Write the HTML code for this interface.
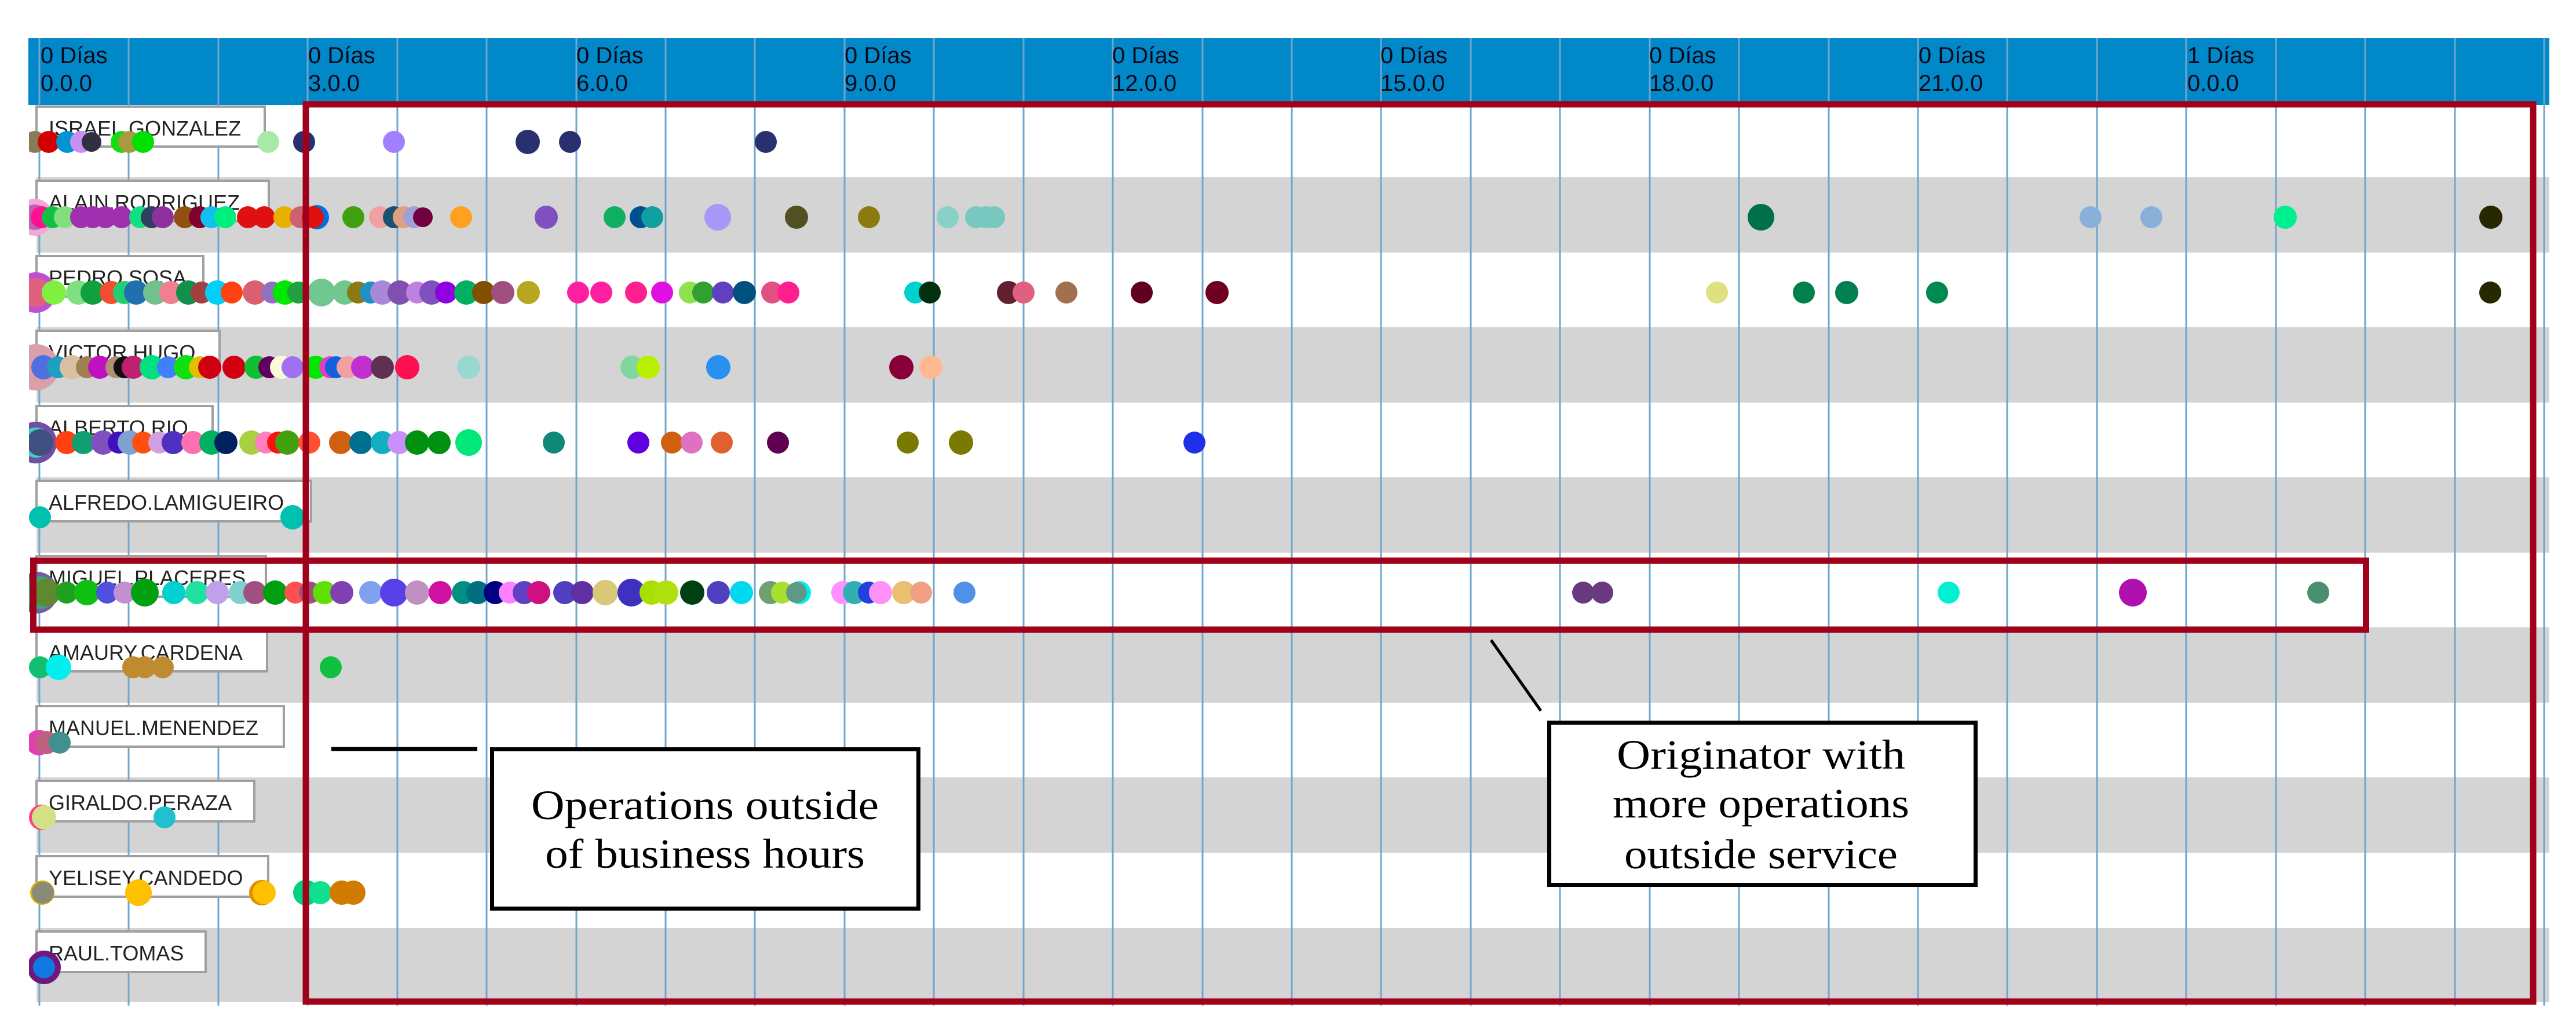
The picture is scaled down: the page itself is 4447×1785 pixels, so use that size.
<!DOCTYPE html>
<html><head><meta charset="utf-8"><style>html,body{margin:0;padding:0;background:#fff}svg{display:block}</style></head>
<body>
<svg width="4447" height="1785" viewBox="0 0 4447 1785" xmlns="http://www.w3.org/2000/svg">
<defs><clipPath id="cp"><rect x="50" y="181" width="4351" height="1555"/></clipPath></defs>
<rect width="4447" height="1785" fill="#fff"/>
<g fill="#d4d4d4">
<rect x="63" y="306" width="4338" height="130"/>
<rect x="63" y="565" width="4338" height="130"/>
<rect x="63" y="824" width="4338" height="130"/>
<rect x="63" y="1083" width="4338" height="130"/>
<rect x="63" y="1342" width="4338" height="130"/>
<rect x="63" y="1602" width="4338" height="128"/>
</g>
<rect x="49" y="66" width="4352" height="115" fill="#0088c8"/>
<g stroke="#6fa6cc" stroke-width="3">
<line x1="68" y1="66" x2="68" y2="1736"/><line x1="222" y1="66" x2="222" y2="1736"/><line x1="377" y1="66" x2="377" y2="1736"/><line x1="531" y1="66" x2="531" y2="1736"/><line x1="686" y1="66" x2="686" y2="1736"/><line x1="840" y1="66" x2="840" y2="1736"/><line x1="995" y1="66" x2="995" y2="1736"/><line x1="1149" y1="66" x2="1149" y2="1736"/><line x1="1303" y1="66" x2="1303" y2="1736"/><line x1="1458" y1="66" x2="1458" y2="1736"/><line x1="1612" y1="66" x2="1612" y2="1736"/><line x1="1767" y1="66" x2="1767" y2="1736"/><line x1="1921" y1="66" x2="1921" y2="1736"/><line x1="2076" y1="66" x2="2076" y2="1736"/><line x1="2230" y1="66" x2="2230" y2="1736"/><line x1="2384" y1="66" x2="2384" y2="1736"/><line x1="2539" y1="66" x2="2539" y2="1736"/><line x1="2693" y1="66" x2="2693" y2="1736"/><line x1="2848" y1="66" x2="2848" y2="1736"/><line x1="3002" y1="66" x2="3002" y2="1736"/><line x1="3157" y1="66" x2="3157" y2="1736"/><line x1="3311" y1="66" x2="3311" y2="1736"/><line x1="3465" y1="66" x2="3465" y2="1736"/><line x1="3620" y1="66" x2="3620" y2="1736"/><line x1="3774" y1="66" x2="3774" y2="1736"/><line x1="3929" y1="66" x2="3929" y2="1736"/><line x1="4083" y1="66" x2="4083" y2="1736"/><line x1="4238" y1="66" x2="4238" y2="1736"/><line x1="4392" y1="66" x2="4392" y2="1736"/>
</g>
<g font-family="Liberation Sans, sans-serif" font-size="40" fill="#0a0a1a">
<text x="70" y="109">0 Días</text><text x="70" y="157">0.0.0</text>
<text x="532" y="109">0 Días</text><text x="532" y="157">3.0.0</text>
<text x="995" y="109">0 Días</text><text x="995" y="157">6.0.0</text>
<text x="1458" y="109">0 Días</text><text x="1458" y="157">9.0.0</text>
<text x="1920" y="109">0 Días</text><text x="1920" y="157">12.0.0</text>
<text x="2383" y="109">0 Días</text><text x="2383" y="157">15.0.0</text>
<text x="2847" y="109">0 Días</text><text x="2847" y="157">18.0.0</text>
<text x="3312" y="109">0 Días</text><text x="3312" y="157">21.0.0</text>
<text x="3776" y="109">1 Días</text><text x="3776" y="157">0.0.0</text>
</g>
<g fill="#fff" stroke="#a0a0a0" stroke-width="4">
<rect x="63" y="184" width="394" height="69"/>
<rect x="63" y="312" width="401" height="70"/>
<rect x="63" y="442" width="288" height="70"/>
<rect x="63" y="571" width="316" height="70"/>
<rect x="63" y="701" width="304" height="70"/>
<rect x="63" y="830" width="474" height="70"/>
<rect x="63" y="960" width="396" height="70"/>
<rect x="63" y="1089" width="398" height="70"/>
<rect x="63" y="1219" width="427" height="70"/>
<rect x="63" y="1348" width="376" height="70"/>
<rect x="63" y="1478" width="400" height="70"/>
<rect x="63" y="1608" width="292" height="70"/>
</g>
<g font-family="Liberation Sans, sans-serif" font-size="36" fill="#222">
<text x="84" y="234">ISRAEL.GONZALEZ</text>
<text x="84" y="362">ALAIN.RODRIGUEZ</text>
<text x="84" y="492">PEDRO.SOSA</text>
<text x="84" y="621">VICTOR.HUGO</text>
<text x="84" y="751">ALBERTO.RIO</text>
<text x="84" y="880">ALFREDO.LAMIGUEIRO</text>
<text x="84" y="1010">MIGUEL.PLACERES</text>
<text x="84" y="1139">AMAURY.CARDENA</text>
<text x="84" y="1269">MANUEL.MENENDEZ</text>
<text x="84" y="1398">GIRALDO.PERAZA</text>
<text x="84" y="1528">YELISEY.CANDEDO</text>
<text x="84" y="1658">RAUL.TOMAS</text>
</g>
<g clip-path="url(#cp)">
<g transform="translate(0,245)">
<circle cx="60" r="19" fill="#8a7a5a"/><circle cx="84" r="19" fill="#d40000"/><circle cx="116" r="19" fill="#0094d4"/><circle cx="140" r="19" fill="#c890f0"/><circle cx="158" r="17" fill="#303040"/><circle cx="210" r="19" fill="#10e010"/><circle cx="223" r="19" fill="#a89a40"/><circle cx="247" r="19" fill="#00e000"/><circle cx="463" r="19" fill="#a8e8a8"/><circle cx="525" r="19" fill="#283070"/><circle cx="680" r="19" fill="#a080ff"/><circle cx="911" r="21" fill="#283070"/><circle cx="984" r="19" fill="#283070"/><circle cx="1322" r="19" fill="#283070"/>
</g>
<g transform="translate(0,375)">
<circle cx="60" r="32" fill="#f4a8d8"/><circle cx="60" r="22" fill="#c060b0"/><circle cx="72" r="19" fill="#ff1090"/><circle cx="91" r="19" fill="#10c040"/><circle cx="112" r="19" fill="#80e080"/><circle cx="140" r="19" fill="#a030b0"/><circle cx="160" r="19" fill="#a030b0"/><circle cx="182" r="19" fill="#a030b0"/><circle cx="210" r="19" fill="#a030b0"/><circle cx="242" r="19" fill="#10e080"/><circle cx="262" r="19" fill="#304060"/><circle cx="281" r="19" fill="#9030a0"/><circle cx="319" r="19" fill="#905010"/><circle cx="345" r="19" fill="#800030"/><circle cx="365" r="19" fill="#10c0f0"/><circle cx="389" r="19" fill="#00f080"/><circle cx="428" r="19" fill="#e01010"/><circle cx="456" r="19" fill="#e01010"/><circle cx="491" r="19" fill="#e8b000"/><circle cx="519" r="19" fill="#d06070"/><circle cx="547" r="21" fill="#0070e0"/><circle cx="540" r="19" fill="#e01010"/><circle cx="610" r="19" fill="#40a010"/><circle cx="656" r="19" fill="#f0a0a0"/><circle cx="680" r="19" fill="#1a5070"/><circle cx="697" r="19" fill="#e0a080"/><circle cx="715" r="19" fill="#a0a0d8"/><circle cx="730" r="17" fill="#700040"/><circle cx="796" r="19" fill="#ffa020"/><circle cx="943" r="20" fill="#8050c0"/><circle cx="1061" r="19" fill="#10b060"/><circle cx="1106" r="19" fill="#005090"/><circle cx="1126" r="19" fill="#10a0a0"/><circle cx="1239" r="23" fill="#a898f8"/><circle cx="1375" r="20" fill="#505020"/><circle cx="1500" r="19" fill="#8a7a10"/><circle cx="1636" r="19" fill="#88d0c8"/><circle cx="1685" r="19" fill="#78c8c0"/><circle cx="1702" r="19" fill="#78c8c0"/><circle cx="1716" r="19" fill="#78c8c0"/><circle cx="3040" r="23" fill="#00704a"/><circle cx="3609" r="19" fill="#88b0d8"/><circle cx="3714" r="19" fill="#88b0d8"/><circle cx="3945" r="20" fill="#00f090"/><circle cx="4300" r="20" fill="#282800"/>
</g>
<g transform="translate(0,505)">
<circle cx="62" r="35" fill="#c050d0"/><circle cx="62" r="25" fill="#e06080"/><circle cx="93" r="21" fill="#80f040"/><circle cx="135" r="21" fill="#80e080"/><circle cx="160" r="21" fill="#10a040"/><circle cx="192" r="20" fill="#f05030"/><circle cx="215" r="20" fill="#20d070"/><circle cx="235" r="21" fill="#2070b0"/><circle cx="268" r="21" fill="#70c090"/><circle cx="295" r="20" fill="#f08090"/><circle cx="325" r="21" fill="#10904a"/><circle cx="348" r="19" fill="#a04040"/><circle cx="375" r="21" fill="#00d0f8"/><circle cx="400" r="19" fill="#ff4010"/><circle cx="440" r="21" fill="#d86070"/><circle cx="470" r="19" fill="#9070c0"/><circle cx="492" r="21" fill="#00e800"/><circle cx="515" r="19" fill="#20a040"/><circle cx="555" r="24" fill="#70c890"/><circle cx="595" r="21" fill="#70c890"/><circle cx="618" r="19" fill="#8a7a10"/><circle cx="640" r="19" fill="#2090c0"/><circle cx="660" r="21" fill="#a888d8"/><circle cx="690" r="21" fill="#8050b0"/><circle cx="720" r="19" fill="#c080e0"/><circle cx="745" r="21" fill="#8050c0"/><circle cx="770" r="19" fill="#9000e0"/><circle cx="805" r="21" fill="#00b060"/><circle cx="835" r="20" fill="#805000"/><circle cx="868" r="20" fill="#a05080"/><circle cx="912" r="20" fill="#b8a820"/><circle cx="998" r="19" fill="#ff20a0"/><circle cx="1038" r="19" fill="#ff20a0"/><circle cx="1098" r="19" fill="#ff2090"/><circle cx="1143" r="19" fill="#e010e0"/><circle cx="1191" r="19" fill="#90e050"/><circle cx="1214" r="19" fill="#30a030"/><circle cx="1248" r="19" fill="#6040c0"/><circle cx="1285" r="20" fill="#005080"/><circle cx="1333" r="19" fill="#e05080"/><circle cx="1361" r="19" fill="#ff2090"/><circle cx="1580" r="19" fill="#00d0d0"/><circle cx="1605" r="19" fill="#003010"/><circle cx="1741" r="20" fill="#602030"/><circle cx="1767" r="19" fill="#e06080"/><circle cx="1841" r="19" fill="#a07050"/><circle cx="1971" r="19" fill="#600020"/><circle cx="2101" r="20" fill="#700020"/><circle cx="2964" r="19" fill="#e0e080"/><circle cx="3114" r="19" fill="#00804a"/><circle cx="3188" r="20" fill="#008050"/><circle cx="3344" r="19" fill="#008a50"/><circle cx="4299" r="19" fill="#282800"/>
</g>
<g transform="translate(0,634)">
<circle cx="62" r="40" fill="#d8a0a8"/><circle cx="75" r="21" fill="#5070e0"/><circle cx="100" r="19" fill="#20a0c0"/><circle cx="124" r="21" fill="#d8c0a0"/><circle cx="150" r="19" fill="#a08050"/><circle cx="172" r="20" fill="#c010c0"/><circle cx="201" r="19" fill="#b09070"/><circle cx="215" r="19" fill="#101010"/><circle cx="230" r="20" fill="#c02070"/><circle cx="262" r="21" fill="#00e080"/><circle cx="290" r="19" fill="#4080ff"/><circle cx="321" r="21" fill="#10e010"/><circle cx="345" r="19" fill="#e0c000"/><circle cx="362" r="20" fill="#d00010"/><circle cx="404" r="20" fill="#d00010"/><circle cx="442" r="20" fill="#10c030"/><circle cx="465" r="19" fill="#600060"/><circle cx="486" r="20" fill="#fafad8"/><circle cx="505" r="19" fill="#a070f0"/><circle cx="545" r="20" fill="#00e800"/><circle cx="570" r="19" fill="#e040c0"/><circle cx="580" r="19" fill="#1060e0"/><circle cx="600" r="19" fill="#f0a0a0"/><circle cx="626" r="20" fill="#c030d0"/><circle cx="660" r="20" fill="#603050"/><circle cx="703" r="21" fill="#ff1050"/><circle cx="809" r="20" fill="#98d8d0"/><circle cx="1091" r="20" fill="#80d8a0"/><circle cx="1119" r="20" fill="#b8f000"/><circle cx="1240" r="21" fill="#2890f0"/><circle cx="1556" r="21" fill="#880038"/><circle cx="1607" r="20" fill="#ffb890"/>
</g>
<g transform="translate(0,764)">
<circle cx="62" r="36" fill="#7050a0"/><circle cx="62" r="26" fill="#40d0c0"/><circle cx="69" r="23" fill="#405080"/><circle cx="115" r="20" fill="#ff4010"/><circle cx="144" r="20" fill="#10a070"/><circle cx="178" r="21" fill="#8050c0"/><circle cx="205" r="19" fill="#4010c0"/><circle cx="224" r="21" fill="#80a0d0"/><circle cx="247" r="19" fill="#ff5010"/><circle cx="275" r="19" fill="#d0a0e0"/><circle cx="299" r="20" fill="#5030c0"/><circle cx="333" r="20" fill="#ff70b0"/><circle cx="365" r="21" fill="#00b060"/><circle cx="390" r="20" fill="#002060"/><circle cx="434" r="21" fill="#a8d040"/><circle cx="459" r="19" fill="#ff80c0"/><circle cx="480" r="19" fill="#ff1010"/><circle cx="496" r="21" fill="#40a010"/><circle cx="534" r="19" fill="#ff5030"/><circle cx="588" r="20" fill="#d06010"/><circle cx="623" r="20" fill="#007090"/><circle cx="660" r="20" fill="#10b0c0"/><circle cx="689" r="20" fill="#c890f8"/><circle cx="720" r="21" fill="#009010"/><circle cx="758" r="20" fill="#009010"/><circle cx="809" r="23" fill="#00e878"/><circle cx="956" r="19" fill="#108878"/><circle cx="1102" r="19" fill="#6000e0"/><circle cx="1160" r="19" fill="#d06010"/><circle cx="1194" r="19" fill="#e070c0"/><circle cx="1246" r="19" fill="#e06030"/><circle cx="1343" r="19" fill="#600050"/><circle cx="1567" r="19" fill="#7a7a00"/><circle cx="1659" r="21" fill="#7a7a00"/><circle cx="2062" r="19" fill="#2030e8"/>
</g>
<g transform="translate(0,893)">
<circle cx="69" r="19" fill="#00c0b0"/><circle cx="505" r="21" fill="#00c0b0"/>
</g>
<g transform="translate(0,1023)">
<circle cx="64" r="36" fill="#7060a0"/><circle cx="70" r="28" fill="#40a080"/><circle cx="80" r="24" fill="#608830"/><circle cx="115" r="19" fill="#20a020"/><circle cx="150" r="22" fill="#10c010"/><circle cx="185" r="19" fill="#5050e0"/><circle cx="215" r="19" fill="#c090d0"/><circle cx="250" r="24" fill="#00a010"/><circle cx="300" r="20" fill="#00d0d0"/><circle cx="340" r="20" fill="#20e0a0"/><circle cx="375" r="20" fill="#c0a0e8"/><circle cx="415" r="20" fill="#80d0d0"/><circle cx="440" r="20" fill="#a05080"/><circle cx="475" r="21" fill="#00a010"/><circle cx="510" r="19" fill="#ff5050"/><circle cx="535" r="19" fill="#a05080"/><circle cx="560" r="20" fill="#60e000"/><circle cx="590" r="20" fill="#8040b0"/><circle cx="640" r="20" fill="#80a0f0"/><circle cx="680" r="24" fill="#5840e8"/><circle cx="720" r="21" fill="#c090c0"/><circle cx="760" r="20" fill="#d010a0"/><circle cx="800" r="20" fill="#009080"/><circle cx="825" r="20" fill="#007080"/><circle cx="855" r="20" fill="#000080"/><circle cx="880" r="19" fill="#ff80ff"/><circle cx="905" r="20" fill="#6040c0"/><circle cx="930" r="20" fill="#d01080"/><circle cx="975" r="20" fill="#5040c0"/><circle cx="1005" r="20" fill="#6030a0"/><circle cx="1045" r="22" fill="#d8c878"/><circle cx="1090" r="24" fill="#4030c0"/><circle cx="1125" r="21" fill="#a8e000"/><circle cx="1150" r="21" fill="#b0e010"/><circle cx="1195" r="21" fill="#004010"/><circle cx="1240" r="20" fill="#5040c0"/><circle cx="1280" r="20" fill="#00d8f0"/><circle cx="1330" r="20" fill="#70a070"/><circle cx="1350" r="19" fill="#a8e030"/><circle cx="1380" r="20" fill="#00f0f0"/><circle cx="1375" r="18" fill="#609888"/><circle cx="1455" r="20" fill="#ff90ff"/><circle cx="1475" r="20" fill="#30b0b0"/><circle cx="1500" r="19" fill="#2040e0"/><circle cx="1520" r="20" fill="#ff90f8"/><circle cx="1560" r="20" fill="#e8c070"/><circle cx="1590" r="19" fill="#f0a080"/><circle cx="1665" r="19" fill="#5090e8"/><circle cx="2733" r="19" fill="#6a3a80"/><circle cx="2766" r="19" fill="#6a3a80"/><circle cx="3364" r="19" fill="#00f0d0"/><circle cx="3682" r="24" fill="#b010b0"/><circle cx="4002" r="19" fill="#4a9070"/>
</g>
<g transform="translate(0,1152)">
<circle cx="69" r="19" fill="#10c070"/><circle cx="101" r="22" fill="#00f0f0"/><circle cx="230" r="19" fill="#c08a30"/><circle cx="250" r="19" fill="#c08a30"/><circle cx="281" r="19" fill="#c08a30"/><circle cx="571" r="19" fill="#10c040"/>
</g>
<g transform="translate(0,1282)">
<circle cx="67" r="22" fill="#e040b0"/><circle cx="80" r="20" fill="#c06080"/><circle cx="103" r="19" fill="#409090"/>
</g>
<g transform="translate(0,1411)">
<circle cx="72" r="22" fill="#ff4080"/><circle cx="76" r="21" fill="#d4e088"/><circle cx="284" r="19" fill="#20c0d0"/>
</g>
<g transform="translate(0,1541)">
<circle cx="73" r="21" fill="#e0b000"/><circle cx="74" r="19" fill="#8a8a78"/><circle cx="239" r="23" fill="#ffc000"/><circle cx="452" r="22" fill="#e09000"/><circle cx="456" r="20" fill="#ffc000"/><circle cx="528" r="22" fill="#00d080"/><circle cx="553" r="20" fill="#10e090"/><circle cx="590" r="21" fill="#d07a00"/><circle cx="610" r="21" fill="#d07a00"/>
</g>
<g transform="translate(0,1670)">
<circle cx="76" r="29" fill="#701880"/><circle cx="76" r="19" fill="#1078e0"/>
</g>
</g>
<rect x="528" y="180" width="3845" height="1549" fill="none" stroke="#a0001a" stroke-width="11"/>
<rect x="57.5" y="968" width="4027" height="119" fill="none" stroke="#a0001a" stroke-width="11"/>
<line x1="572" y1="1293" x2="824" y2="1293" stroke="#000" stroke-width="7"/>
<rect x="849.5" y="1293.5" width="736" height="275" fill="#fff" stroke="#000" stroke-width="7"/>
<g font-family="Liberation Serif, serif" font-size="72" fill="#000" text-anchor="middle">
<text x="1217" y="1414" textLength="600" lengthAdjust="spacingAndGlyphs">Operations outside</text>
<text x="1217" y="1498" textLength="552" lengthAdjust="spacingAndGlyphs">of business hours</text>
</g>
<line x1="2574" y1="1105" x2="2660" y2="1227" stroke="#000" stroke-width="5"/>
<rect x="2674.5" y="1247.5" width="736" height="280" fill="#fff" stroke="#000" stroke-width="7"/>
<g font-family="Liberation Serif, serif" font-size="72" fill="#000" text-anchor="middle">
<text x="3040" y="1327" textLength="498" lengthAdjust="spacingAndGlyphs">Originator with</text>
<text x="3040" y="1411" textLength="512" lengthAdjust="spacingAndGlyphs">more operations</text>
<text x="3040" y="1499" textLength="472" lengthAdjust="spacingAndGlyphs">outside service</text>
</g>
</svg>
</body></html>
